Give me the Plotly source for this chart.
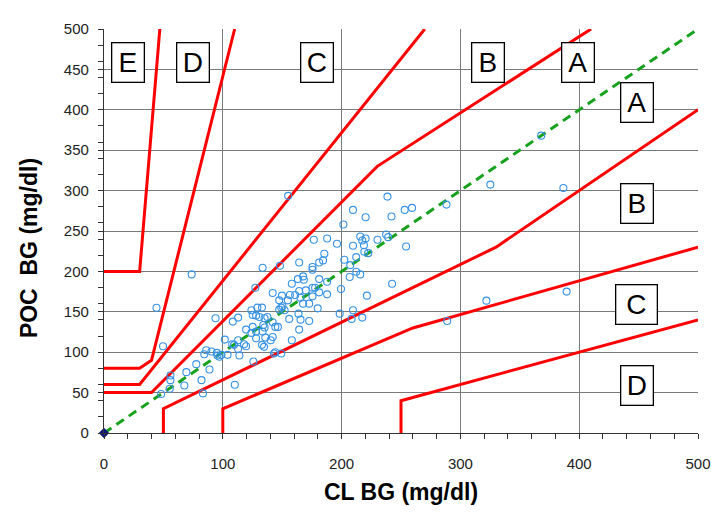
import plotly.graph_objects as go

# ---- Error-grid zone boundaries (mg/dl) ----
ed_upper_x = [0, 30, 47]
ed_upper_y = [200, 200, 500]
dc_upper_x = [0, 30, 40, 110]
dc_upper_y = [80, 80, 90, 500]
cb_upper_x = [0, 30, 270]
cb_upper_y = [60, 60, 500]
ba_upper_x = [0, 40, 230, 410]
ba_upper_y = [50, 50, 330, 500]
ab_lower_x = [50, 50, 330, 500]
ab_lower_y = [0, 30, 230, 400]
bc_lower_x = [100, 100, 260, 500]
bc_lower_y = [0, 30, 130, 230]
cd_lower_x = [250, 250, 500]
cd_lower_y = [0, 40, 140]

# ---- Measurements: CL BG (x) vs POC BG (y) ----
cl_bg = [
    209.6, 220.2, 242.0, 253.1, 259.3, 201.5, 238.6,
    176.6, 187.8, 196.1, 215.7, 220.2, 217.4, 230.2, 237.5, 239.2, 254.3, 209.6, 218.8,
    185.5, 181.1, 175.5, 164.3, 202.3, 207.3, 212.3, 219.1, 222.4, 133.5, 148.1, 184.4,
    167.6, 163.2, 168.2, 175.5, 181.1, 187.8, 206.8, 212.3, 215.7, 242.5, 127.4, 158.1,
    156.5, 149.8, 142.0,
    164.3, 169.9, 175.5, 177.7, 181.1, 175.5, 187.8, 199.5, 221.3, 160.9, 154.8, 147.5,
    150.3, 165.4, 167.6, 172.7, 179.9,
    124.1, 129.1, 133.0, 125.2, 128.0, 130.8, 135.2, 137.5, 147.5, 149.2, 152.0, 163.7,
    172.7, 155.9, 165.4, 198.4, 209.6, 208.4, 217.4, 93.9, 112.9, 108.4,
    119.6, 125.2, 128.0, 134.1, 135.2, 142.0, 144.2, 146.4, 124.1, 128.0, 133.5, 135.8,
    140.3, 164.3, 158.1, 101.7, 112.9, 117.9,
    86.1, 90.5, 95.0, 97.2, 98.9, 95.5, 104.0, 107.9, 109.5, 112.9, 114.0, 119.6,
    125.7, 133.0, 134.7, 143.1, 144.2, 149.2, 142.0,
    77.7, 88.8, 84.4, 69.3, 55.9, 55.9, 67.6, 82.1, 110.1, 55.3, 83.3, 48.1,
    44.2, 73.8, 49.7, 155.0,
    325.2, 386.7, 288.3, 321.9, 389.4, 288.9, 368.0,
]
poc_bg = [
    276.1, 267.1, 267.9, 276.1, 278.6, 258.0, 292.6,
    239.1, 240.7, 234.2, 243.2, 240.7, 238.3, 239.1, 245.7, 242.4, 230.9, 231.7, 232.5,
    221.8, 211.1, 205.4, 211.1, 214.4, 207.8, 217.7, 224.3, 222.6, 204.5, 207.0, 213.6,
    193.8, 190.5, 189.7, 202.1, 190.5, 187.2, 193.0, 199.6, 196.3, 184.8, 179.8, 184.8,
    170.8, 170.0, 173.3,
    175.7, 176.5, 179.8, 179.8, 174.1, 169.1, 171.6, 178.2, 170.0, 170.8, 164.2, 164.2,
    156.8, 167.5, 160.1, 160.1, 154.3,
    151.9, 155.2, 155.2, 146.1, 145.3, 143.6, 142.0, 143.6, 152.7, 155.2, 151.9, 147.7,
    138.7, 141.2, 140.3, 147.7, 151.9, 141.2, 142.8, 142.0, 142.8, 137.9,
    128.0, 131.3, 125.5, 133.7, 130.5, 137.0, 131.3, 131.3, 123.9, 117.3, 125.5, 118.1,
    114.8, 128.0, 114.8, 115.6, 114.8, 109.9,
    102.5, 100.8, 99.2, 94.3, 96.7, 95.9, 96.7, 109.9, 109.1, 104.1, 95.9, 107.4,
    88.5, 109.1, 106.6, 98.4, 100.0, 98.4, 118.9,
    85.2, 78.6, 97.5, 75.3, 71.2, 65.4, 58.8, 65.4, 59.7, 54.7, 49.0, 48.2,
    155.0, 196.3, 107.4, 293.5,
    307.4, 303.3, 282.7, 163.8, 175.0, 138.6, 368.0,
]

identity_x = [0, 500]
identity_y = [0, 500]

# ---- Zone labels ----
zone_text = ["E", "D", "C", "B", "A", "A", "B", "C", "D"]
zone_x = [20.4, 75.0, 179.6, 323.6, 399.1, 448.6, 448.9, 448.4, 448.3]
zone_y = [458.9, 458.9, 458.9, 458.9, 458.9, 409.5, 284.6, 159.5, 58.6]

x_tick_vals = [0, 100, 200, 300, 400, 500]
y_tick_vals = [0, 50, 100, 150, 200, 250, 300, 350, 400, 450, 500]

FONT = "Liberation Sans, Arial, sans-serif"
RED = "#ff0000"

fig = go.Figure()

for xs, ys in [(ed_upper_x, ed_upper_y), (dc_upper_x, dc_upper_y),
               (cb_upper_x, cb_upper_y), (ba_upper_x, ba_upper_y),
               (ab_lower_x, ab_lower_y), (bc_lower_x, bc_lower_y),
               (cd_lower_x, cd_lower_y)]:
    fig.add_trace(go.Scatter(x=xs, y=ys, mode="lines",
                             line=dict(color=RED, width=3),
                             hoverinfo="skip", showlegend=False))

fig.add_trace(go.Scatter(x=identity_x, y=identity_y, mode="lines",
                         line=dict(color="#17a21d", width=3, dash="9px,6px"),
                         hoverinfo="skip", showlegend=False))

fig.add_trace(go.Scatter(x=cl_bg, y=poc_bg, mode="markers",
                         marker=dict(symbol="circle-open", size=7,
                                     color="#3792e4", line=dict(width=1.1)),
                         showlegend=False))

fig.add_trace(go.Scatter(x=[0], y=[0], mode="markers",
                         marker=dict(symbol="diamond", size=8, color="#0b1a7a"),
                         cliponaxis=False, showlegend=False))

for t, x, y in zip(zone_text, zone_x, zone_y):
    w = 38 if (t == "C" and y < 200) else 29
    fig.add_annotation(x=x, y=y, xref="x", yref="y", text=t, showarrow=False,
                       font=dict(family=FONT, size=28, color="black"),
                       bgcolor="white", bordercolor="black", borderwidth=1.3,
                       width=w, height=36, borderpad=1)

# y-axis title (placed slightly below the plot's vertical centre, as in the source)
fig.add_annotation(text="<b>POC  BG (mg/dl)</b>", textangle=-90,
                   xref="paper", yref="paper", x=-0.126, y=0.458,
                   xanchor="center", yanchor="middle", showarrow=False,
                   font=dict(family=FONT, size=23, color="black"))

axis_common = dict(
    range=[0, 500], showgrid=True, gridcolor="#7a7a7a", gridwidth=1,
    zeroline=False, showline=True, linecolor="#333333", linewidth=1.3,
    ticks="outside", ticklen=5, tickcolor="#333333",
    tickfont=dict(family=FONT, size=15, color="#222222"),
    minor=dict(dtick=20, tick0=0, ticks="outside", ticklen=5,
               tickcolor="#333333", showgrid=False),
)

fig.update_xaxes(**axis_common, tickmode="array", tickvals=x_tick_vals,
                 ticklabelstandoff=12,
                 title=dict(text="<b>CL BG (mg/dl)</b>", standoff=12,
                            font=dict(family=FONT, size=23, color="black")))
fig.update_yaxes(**axis_common, tickmode="array", tickvals=y_tick_vals,
                 ticklabelstandoff=6)

# the page body adds an 8px offset; margins compensate for it
fig.update_layout(
    width=724, height=522,
    margin=dict(l=96, r=34, t=19, b=97),
    plot_bgcolor="white", paper_bgcolor="white",
    showlegend=False,
)

fig.write_html("out.html")
